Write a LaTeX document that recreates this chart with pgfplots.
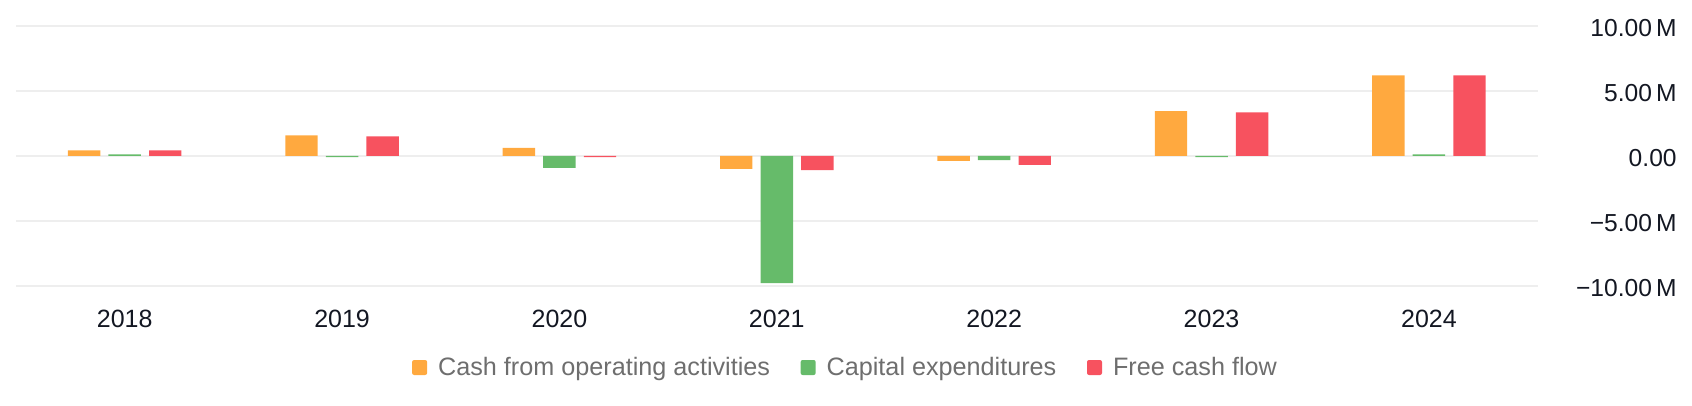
\documentclass[border=0pt]{standalone}
\usepackage{pgfplots}
\pgfplotsset{compat=1.18}
\usepackage{fontspec}
\setmainfont{Liberation Sans}
\definecolor{cfo}{HTML}{FFA93F}
\definecolor{capex}{HTML}{66BB6A}
\definecolor{fcf}{HTML}{F7525F}
\definecolor{gridc}{HTML}{EEEEEE}
\definecolor{tickc}{HTML}{131722}
\definecolor{legc}{HTML}{6E6E6E}
\begin{document}
\begin{tikzpicture}
\useasboundingbox (-8bp,-60bp) rectangle (838bp,143bp);
\begin{axis}[
  at={(0,0)}, anchor=south west,
  scale only axis, width=760.8bp, height=130bp,
  xmin=-0.5, xmax=6.5, ymin=-10, ymax=10,
  axis line style={draw=none},
  major tick length=0pt, tick style={draw=none},
  ybar=4.1bp, bar width=16.2bp,
  ymajorgrids, grid style={color=gridc, line width=0.7bp},
  xtick={0,1,2,3,4,5,6},
  xticklabels={2018,2019,2020,2021,2022,2023,2024},
  ytick={-10,-5,0,5,10},
  yticklabels={−10.00\,M,−5.00\,M,0.00,5.00\,M,10.00\,M},
  /pgf/number format/assume math mode=true,
  yticklabel pos=right,
  yticklabel style={anchor=east, xshift=69.7bp, yshift=-1.2bp, inner sep=0pt, font=\fontsize{12.3bp}{14bp}\selectfont, text=tickc},
  xticklabel style={anchor=center, yshift=-16.5bp, inner sep=0pt, font=\fontsize{12.5bp}{14bp}\selectfont, text=tickc},
  legend style={at={(0.546,0)}, anchor=center, yshift=-40.75bp, draw=none, fill=none,
    legend columns=3, font=\fontsize{12.6bp}{14bp}\selectfont, text=legc,
    /tikz/every even column/.append style={column sep=13bp},
    nodes={inner sep=2.3bp}},
  legend cell align=left,
  legend image code/.code={\fill[#1, rounded corners=1bp] (0bp,-3.75bp) rectangle (7.5bp,3.75bp); \path (10.7bp,0bp);},
]
\addplot[fill=cfo, draw=none] coordinates {(0,0.44) (1,1.59) (2,0.62) (3,-1.0) (4,-0.38) (5,3.46) (6,6.2)};
\addplot[fill=capex, draw=none] coordinates {(0,0.13) (1,-0.08) (2,-0.92) (3,-9.77) (4,-0.31) (5,-0.08) (6,0.13)};
\addplot[fill=fcf, draw=none] coordinates {(0,0.44) (1,1.51) (2,-0.08) (3,-1.08) (4,-0.69) (5,3.36) (6,6.2)};
\legend{Cash from operating activities, Capital expenditures, Free cash flow}
\end{axis}
\end{tikzpicture}
\end{document}
